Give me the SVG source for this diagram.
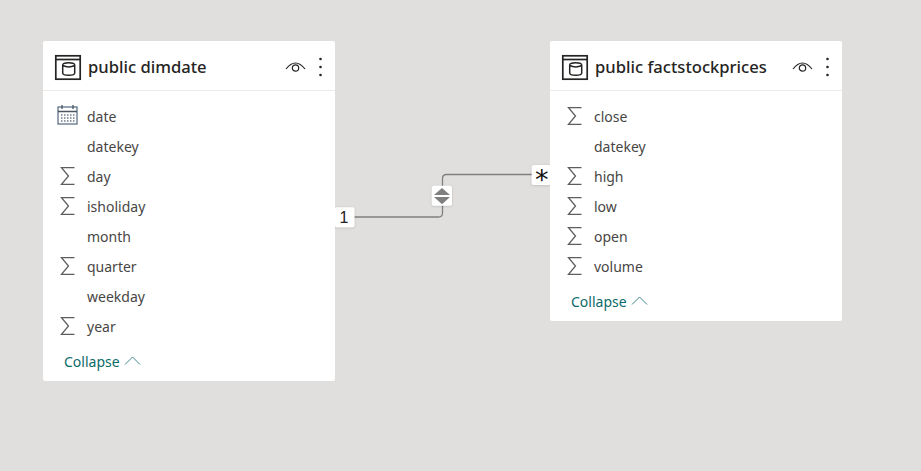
<svg xmlns="http://www.w3.org/2000/svg" width="921" height="471" viewBox="0 0 921 471">
<style>
.card{fill:#fff;stroke:none}
.div{stroke:#edebe9;stroke-width:1;fill:none}
.title{font-family:"Noto Sans","Open Sans",sans-serif;font-size:16.600px;font-weight:500;fill:#252423}
.f{font-family:"Noto Sans","Open Sans",sans-serif;font-size:14px;fill:#484644}
.col{font-family:"Noto Sans","Open Sans",sans-serif;font-size:14px;fill:#0b6a6a}
.ic{fill:none;stroke:#252423;stroke-width:1.700}
.sg{fill:none;stroke:#605e5c;stroke-width:1.300}
.ch{fill:none;stroke:#3f8a8f;stroke-width:1}
.line{fill:none;stroke:#808080;stroke-width:1.300}
.badge{fill:#fff;filter:url(#sh)}
.card-label{font-family:"Liberation Sans",sans-serif;font-size:16px;fill:#222}
</style>
<defs>
<filter id="sh" x="-30%" y="-30%" width="160%" height="160%"><feDropShadow dx="0" dy="0.500" stdDeviation="1" flood-color="#000" flood-opacity="0.180"/></filter>
<path id="sigma" class="sg" d="M14.500 -8.300H1.500L8.500 0L1.500 8.300H14.500"/>
<g id="tableicon">
<rect class="ic" x="0.800" y="0.800" width="24.400" height="23.400"/>
<path class="ic" d="M1 4.500H25"/>
<path class="ic" style="stroke-width:1.500" d="M7.700 10V18Q7.700 20.300 13.700 20.300Q19.700 20.300 19.700 18V10Q19.700 7.700 13.700 7.700Q7.700 7.700 7.700 10ZM7.700 10.500Q13.700 13.300 19.700 10.500"/>
</g>
<g id="eye">
<path class="ic" style="stroke-width:1.200" d="M0.500 9Q10 -3 19.500 9"/>
<circle class="ic" style="stroke-width:1.200" cx="10" cy="8" r="3.200"/>
</g>
<g id="dots" fill="#252423"><circle cx="0" cy="0" r="1.300"/><circle cx="0" cy="8" r="1.300"/><circle cx="0" cy="16" r="1.300"/></g>
</defs>
<rect width="921" height="471" fill="#e1dfdd"/>
<g id="connectors">
<path class="line" d="M354 217H438.500Q442.500 217 442.500 213V178.500Q442.500 174.500 446.500 174.500H532"/>
<rect class="badge" x="335" y="207.300" width="19.500" height="20" rx="2"/>
<text class="card-label" x="344" y="223.300" text-anchor="middle">1</text>
<rect class="badge" x="531.700" y="165" width="19" height="20" rx="2"/>
<text x="541.700" y="189" text-anchor="middle" style="font-family:'DejaVu Sans',sans-serif;font-size:27px;fill:#111">*</text>
<rect class="badge" x="431.800" y="185.700" width="20.200" height="20" rx="2"/>
<path d="M434 195L442 188L450 195Z" fill="#7f7f7f"/>
<path d="M434 197L442 204.300L450 197Z" fill="#7f7f7f"/>
</g>
<g id="dimdate">
<rect class="card" x="43" y="41" width="292" height="340" rx="2"/>
<path class="div" d="M43 90.500H335"/>
<use href="#tableicon" x="55" y="55"/>
<text class="title" x="88" y="73">public dimdate</text>
<use href="#eye" x="285.500" y="60"/>
<use href="#dots" x="320.500" y="59"/>
<g fill="none" stroke="#5f7288" stroke-width="1.300">
<rect x="58" y="107" width="19" height="17"/>
<path d="M58 111.500H77M62 105V109M73 105V109" stroke="#4a5560"/>
<path d="M61 115H75M61 118H75M61 121H75" stroke="#6a7a88" stroke-dasharray="1.500 1.500"/>
</g>
<text class="f" x="87" y="122">date</text>
<text class="f" x="87" y="152">datekey</text>
<use href="#sigma" x="60" y="176"/>
<text class="f" x="87" y="182">day</text>
<use href="#sigma" x="60" y="206"/>
<text class="f" x="87" y="212">isholiday</text>
<text class="f" x="87" y="242">month</text>
<use href="#sigma" x="60" y="266"/>
<text class="f" x="87" y="272">quarter</text>
<text class="f" x="87" y="302">weekday</text>
<use href="#sigma" x="60" y="326"/>
<text class="f" x="87" y="332">year</text>
<text class="col" x="64" y="367">Collapse</text>
<path class="ch" d="M125 364.500L132.500 357L140 364.500"/>
</g>
<g id="factstockprices">
<rect class="card" x="550" y="41" width="292" height="280" rx="2"/>
<path class="div" d="M550 90.500H842"/>
<use href="#tableicon" x="562" y="55"/>
<text class="title" x="595" y="73">public factstockprices</text>
<use href="#eye" x="792.500" y="60"/>
<use href="#dots" x="827.500" y="59"/>
<use href="#sigma" x="567" y="116"/>
<text class="f" x="594" y="122">close</text>
<text class="f" x="594" y="152">datekey</text>
<use href="#sigma" x="567" y="176"/>
<text class="f" x="594" y="182">high</text>
<use href="#sigma" x="567" y="206"/>
<text class="f" x="594" y="212">low</text>
<use href="#sigma" x="567" y="236"/>
<text class="f" x="594" y="242">open</text>
<use href="#sigma" x="567" y="266"/>
<text class="f" x="594" y="272">volume</text>
<text class="col" x="571" y="307">Collapse</text>
<path class="ch" d="M632 304.500L639.500 297L647 304.500"/>
</g>
</svg>
